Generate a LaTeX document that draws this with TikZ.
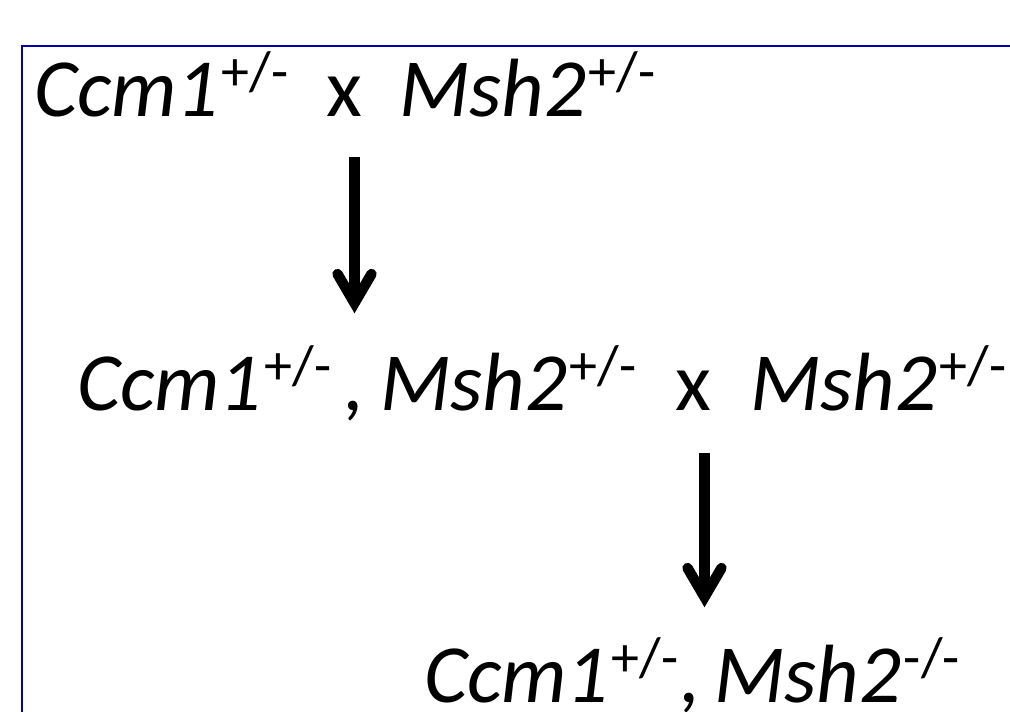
\documentclass[tikz,border=0pt]{standalone}
\usepackage{fontspec}
\setmainfont{Carlito}
\definecolor{frameblue}{RGB}{0,0,172}
\newcommand{\gsup}[1]{\kern2pt\raisebox{0.31em}{\fontsize{42}{42}\selectfont\upshape #1}}
\tikzset{
  gene/.style={anchor=base west, inner sep=0pt, outer sep=0pt,
    font=\fontsize{62}{70}\selectfont\itshape},
  cross/.style={anchor=base west, inner sep=0pt, outer sep=0pt,
    font=\fontsize{62}{70}\selectfont\upshape},
  shaft/.style={line width=7.8pt, line cap=butt},
  barb/.style={line width=7.8pt, line cap=round, line join=miter},
  frame/.style={draw=frameblue, line width=1.6pt}
}
\begin{document}
\begin{tikzpicture}[x=0.75pt, y=-0.75pt]
\useasboundingbox (0,0) rectangle (1010,711);
% frame (open towards the right and bottom)
\draw[frame] (22,712) -- (22,46) -- (1011,46);

% first cross
\node[gene]  (p1a) at (34,116)  {Ccm1\gsup{+/-}};
\node[cross] (p1x) at (326,116) {x};
\node[gene]  (p1b) at (399,116) {Msh2\gsup{+/-}};

% second cross
\node[gene]  (p2a) at (77,410)  {Ccm1\gsup{+/-}};
\node[gene]  (p2k) at (344,410) {,};
\node[gene]  (p2b) at (380,410) {Msh2\gsup{+/-}};
\node[cross] (p2x) at (675,410) {x};
\node[gene]  (p2c) at (750,410) {Msh2\gsup{+/-}};

% offspring
\node[gene]  (p3a) at (424,702) {Ccm1\gsup{+/-}};
\node[gene]  (p3k) at (680,702) {,};
\node[gene]  (p3b) at (714,702) {Msh2\gsup{-/-}};

% arrows
\coordinate (a1s) at (354.5,157);
\coordinate (a1t) at (354.5,303);
\coordinate (a2s) at (704.5,453);
\coordinate (a2t) at (704.5,597);
\draw[shaft] (a1s) -- (a1t);
\draw[barb] ([shift={(-17,-29)}]a1t) -- (a1t) -- ([shift={(17,-29)}]a1t);
\draw[shaft] (a2s) -- (a2t);
\draw[barb] ([shift={(-17,-29)}]a2t) -- (a2t) -- ([shift={(17,-29)}]a2t);
\end{tikzpicture}
\end{document}
